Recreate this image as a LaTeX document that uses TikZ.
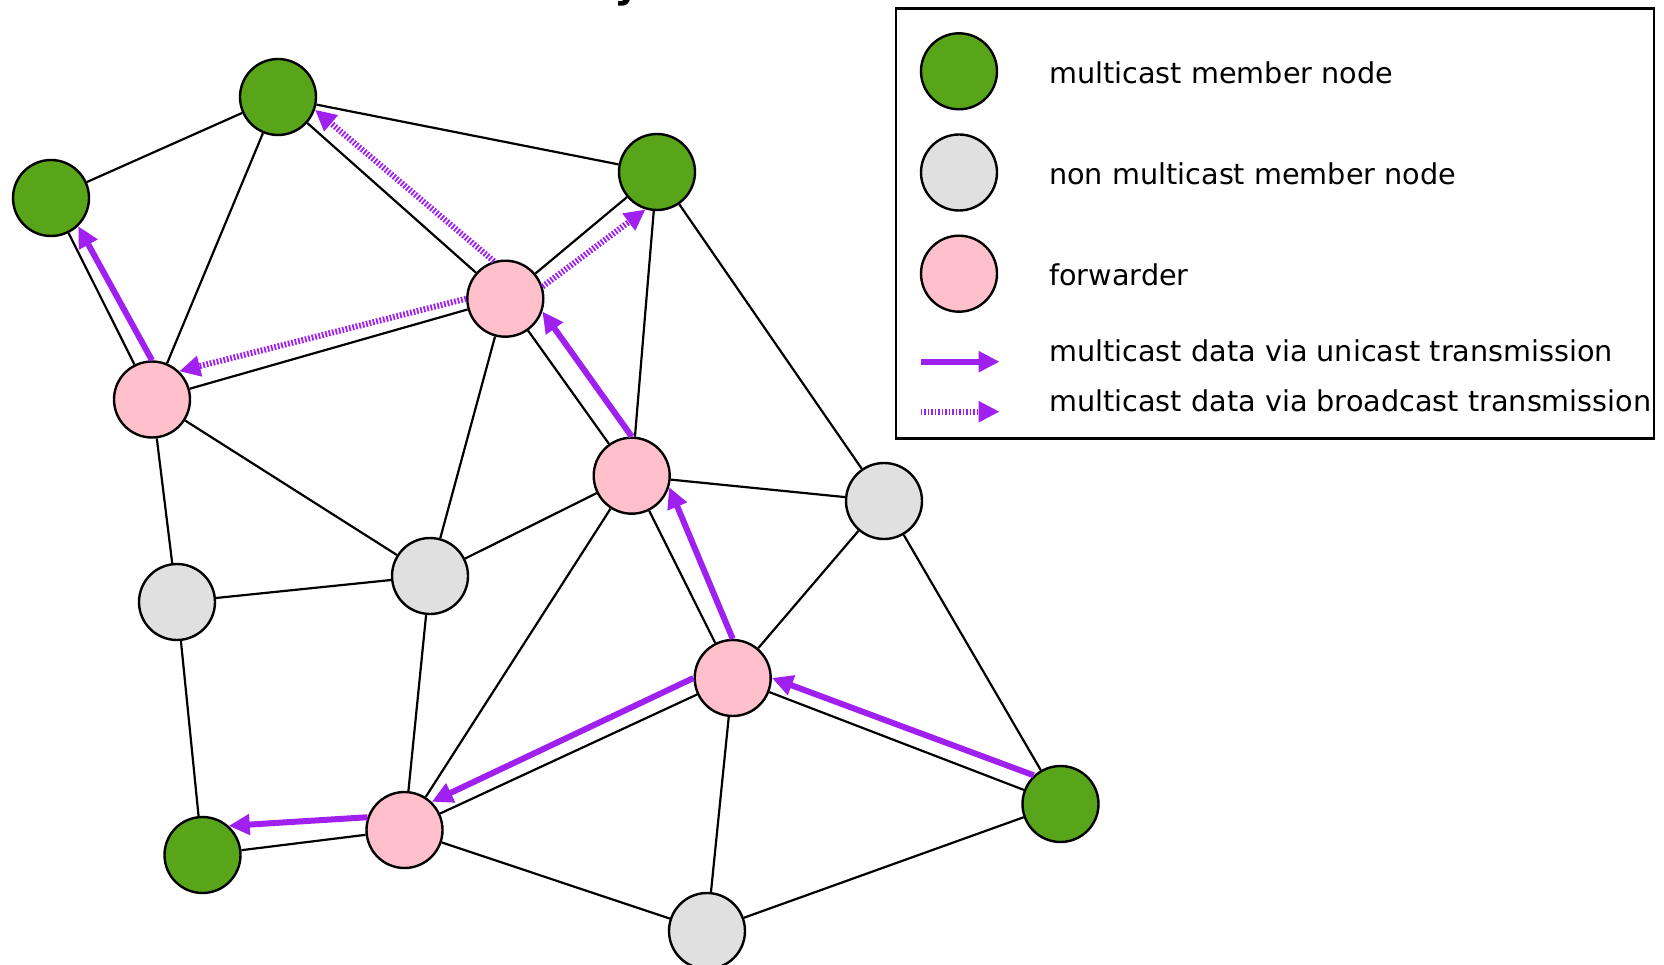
\documentclass[tikz,border=0pt]{standalone}
\usepackage{fontspec}
\setmainfont{DejaVu Sans}
\usetikzlibrary{arrows.meta}

\definecolor{membergreen}{RGB}{88,165,26}
\definecolor{nodegray}{RGB}{224,224,224}
\definecolor{fwdpink}{RGB}{255,192,203}
\definecolor{flowpurple}{RGB}{160,32,240}

\tikzset{
  station/.style={circle, draw=black, line width=2.4pt, minimum size=76pt, inner sep=0pt},
  member/.style={station, fill=membergreen},
  plain/.style={station, fill=nodegray},
  fwd/.style={station, fill=fwdpink},
  link/.style={draw=black, line width=2.2pt},
  flowtip/.style={-{Triangle[length=21pt,width=20pt]}},
  uni/.style={draw=flowpurple, line width=6pt, flowtip},
  bcast/.style={draw=flowpurple, line width=6pt, dash pattern=on 1.8pt off 1.7pt, flowtip},
  legtext/.style={anchor=base west, inner sep=0pt, font=\fontsize{28.7}{34}\selectfont},
}

\begin{document}
\begin{tikzpicture}[x=1pt, y=-1pt]
\useasboundingbox (0,0) rectangle (1664,965);
\fill[white] (0,0) rectangle (1664,965);

% remnant of the heading above the drawing
\node[anchor=base west, inner sep=0pt, font=\fontsize{40}{48}\selectfont\bfseries] (headtail) at (614,-2.5) {y};

% stations
\node[member] (G1) at (51,198) {};
\node[member] (G2) at (278,97) {};
\node[member] (G3) at (657,172) {};
\node[member] (G4) at (202.5,855) {};
\node[member] (G5) at (1060.5,804) {};
\node[fwd] (P1) at (152,399.5) {};
\node[fwd] (P2) at (505.3,298.7) {};
\node[fwd] (P3) at (631.7,475.7) {};
\node[fwd] (P4) at (732.7,678) {};
\node[fwd] (P5) at (404.5,830) {};
\node[plain] (N1) at (177,602) {};
\node[plain] (N2) at (430,576) {};
\node[plain] (N3) at (884,501) {};
\node[plain] (N4) at (707,931) {};

% radio links
\foreach \a/\b in {G1/G2, G1/P1, G2/P1, G2/P2, G2/G3, G3/P2, G3/P3, G3/N3,
                   P1/P2, P1/N1, P1/N2, P2/N2, P2/P3, P3/N2, P3/N3, P3/P5,
                   P3/P4, N3/P4, N3/G5, N1/N2, N1/G4, N2/P5, P5/G4, P5/P4,
                   P5/N4, P4/N4, P4/G5, N4/G5}
  \draw[link] (\a) -- (\b);

% data flow
\draw[uni]   (P1.90)  -- (G1.-46);
\draw[bcast] (P2.107) -- (G2.-19);
\draw[bcast] (P2.18)  -- (G3.-107);
\draw[bcast] (P2.180) -- (P1.46);
\draw[uni]   (P3.90)  -- (P2.-19);
\draw[uni]   (P4.90)  -- (P3.-17);
\draw[uni]   (G5.133) -- (P4.0);
\draw[uni]   (P4.180) -- (P5.46);
\draw[uni]   (P5.161) -- (G4.48);

% legend
\draw[line width=2.5pt] (896,8.3) rectangle (1654,438.3);
\node[member] (LG) at (959,71.3) {};
\node[plain]  (LN) at (959,172.5) {};
\node[fwd]    (LP) at (959,273.7) {};
\coordinate (LUa) at (920.6,361.7);
\coordinate (LUb) at (999.6,361.7);
\coordinate (LBa) at (920.6,411.7);
\coordinate (LBb) at (999.6,411.7);
\draw[uni]   (LUa) -- (LUb);
\draw[bcast] (LBa) -- (LBb);
\begin{scope}
  \clip (896,8.3) rectangle (1653,438.3);
  \node[legtext] (TG) at (1049,83.3)  {multicast member node};
  \node[legtext] (TN) at (1049,185)   {non multicast member node};
  \node[legtext] (TP) at (1049,285.7) {forwarder};
  \node[legtext] (TU) at (1049,361.7) {multicast data via unicast transmission};
  \node[legtext] (TB) at (1049,411.7) {multicast data via broadcast transmission};
\end{scope}
\end{tikzpicture}
\end{document}
